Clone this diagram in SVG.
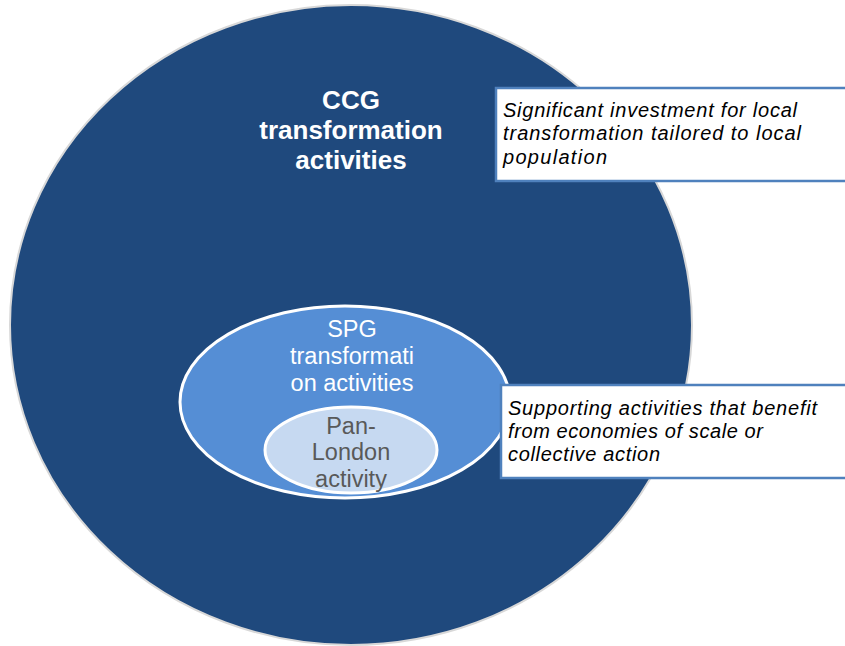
<svg xmlns="http://www.w3.org/2000/svg" width="845" height="646" viewBox="0 0 845 646">
<style>
.ccg{font-family:"Liberation Sans",Arial,sans-serif;font-weight:bold;font-size:26px;fill:#ffffff;text-anchor:middle}
.spg{font-family:"Liberation Sans",Arial,sans-serif;font-size:23.5px;fill:#ffffff;text-anchor:middle}
.pan{font-family:"Liberation Sans",Arial,sans-serif;font-size:23.5px;fill:#595959;text-anchor:middle}
.note{font-family:"Liberation Sans",Arial,sans-serif;font-style:italic;font-size:20px;fill:#000000}
.box{fill:#ffffff;stroke:#4F81BD;stroke-width:2.5}
</style>
<rect width="845" height="646" fill="#ffffff"/>
<g id="ccg">
<ellipse cx="351" cy="325" rx="341" ry="320" fill="#1F497D" stroke="#d8d8d8" stroke-width="2"/>
<text class="ccg" x="351" y="109">CCG</text>
<text class="ccg" x="351" y="139">transformation</text>
<text class="ccg" x="351" y="169">activities</text>
</g>
<g id="spg">
<ellipse cx="345" cy="402" rx="165" ry="96" fill="#558ED5" stroke="#ffffff" stroke-width="3"/>
<text class="spg" x="352" y="337">SPG</text>
<text class="spg" x="352" y="364">transformati</text>
<text class="spg" x="352" y="391">on activities</text>
</g>
<g id="pan">
<ellipse cx="351" cy="450" rx="86" ry="43" fill="#C6D9F1" stroke="#ffffff" stroke-width="3"/>
<text class="pan" x="351" y="434">Pan-</text>
<text class="pan" x="351" y="460">London</text>
<text class="pan" x="351" y="487">activity</text>
</g>
<g id="note1">
<rect class="box" x="496" y="88" width="360" height="93"/>
<text class="note" x="503" y="117" textLength="294" lengthAdjust="spacing">Significant investment for local</text>
<text class="note" x="503" y="140" textLength="298" lengthAdjust="spacing">transformation tailored to local</text>
<text class="note" x="503" y="164" textLength="104" lengthAdjust="spacing">population</text>
</g>
<g id="note2">
<rect class="box" x="501" y="385" width="360" height="93"/>
<text class="note" x="508" y="415" textLength="309" lengthAdjust="spacing">Supporting activities that benefit</text>
<text class="note" x="508" y="438" textLength="255" lengthAdjust="spacing">from economies of scale or</text>
<text class="note" x="508" y="461" textLength="152" lengthAdjust="spacing">collective action</text>
</g>
<g id="connectors"></g>
</svg>
